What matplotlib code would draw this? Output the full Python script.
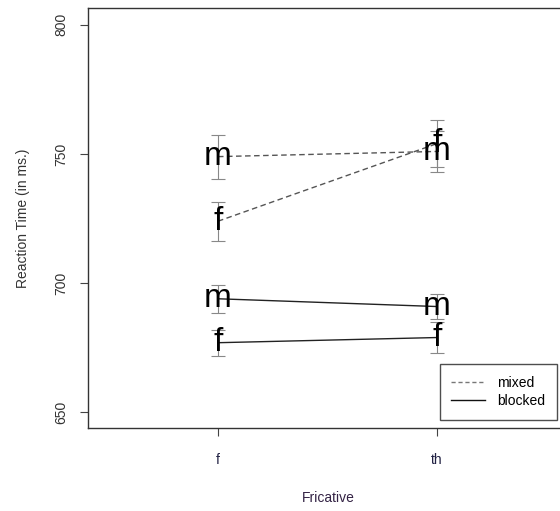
import matplotlib
matplotlib.use("Agg")
import matplotlib.pyplot as plt
from matplotlib.lines import Line2D

plt.rcParams['font.family'] = ['Liberation Sans', 'DejaVu Sans']

categories = ["f", "th"]
mixed_m = [749, 751]
mixed_m_err = [8.5, 8]
mixed_f = [724, 754]
mixed_f_err = [7.5, 9]
blocked_m = [694, 691]
blocked_m_err = [5.5, 5]
blocked_f = [677, 679]
blocked_f_err = [5, 6]
yticks = [650, 700, 750, 800]

fig = plt.figure(figsize=(5.6, 5.11), dpi=100)
ax = fig.add_axes([88/560, 83/511, 480/560, 420/511])
x = [1, 2]

def series(vals, errs, letter, ls, color):
    ax.plot(x, vals, linestyle=ls, color=color, linewidth=1, zorder=2)
    ax.errorbar(x, vals, yerr=errs, fmt='none', ecolor='#888888', elinewidth=0.8,
                capsize=5, capthick=0.8, zorder=1)
    for xi, v in zip(x, vals):
        ax.text(xi, v, letter, ha='center', va='center', fontsize=24,
                color='black', zorder=3)

series(mixed_m, mixed_m_err, 'm', (0, (4, 2.5)), '#555555')
series(mixed_f, mixed_f_err, 'f', (0, (4, 2.5)), '#555555')
series(blocked_m, blocked_m_err, 'm', '-', '#222222')
series(blocked_f, blocked_f_err, 'f', '-', '#222222')

ax.set_xlim(0.406, 2.6)
ax.set_ylim(644, 806.5)
ax.set_xticks(x)
ax.set_xticklabels(categories, fontsize=10, color='#222244')
ax.set_yticks(yticks)
ax.set_yticklabels([str(t) for t in yticks], rotation=90, va='center', fontsize=10, color='#333333')
ax.tick_params(axis='both', length=6, width=0.8, color='#444444', pad=8)
ax.tick_params(axis='x', pad=12)
for s in ax.spines.values():
    s.set_color('#333333')
    s.set_linewidth(1)

ax.set_xlabel('Fricative', fontsize=10, color='#332244', labelpad=17)
ax.set_ylabel('Reaction Time (in ms.)', fontsize=10, color='#333333', labelpad=18)

handles = [Line2D([], [], color='#777777', linestyle=(0, (3, 2)), linewidth=1),
           Line2D([], [], color='#111111', linestyle='-', linewidth=1)]
leg = ax.legend(handles, ['mixed', 'blocked'], loc='lower right',
                bbox_to_anchor=(557/560, 91/511), bbox_transform=fig.transFigure,
                borderaxespad=0, fontsize=10, frameon=True, fancybox=False,
                handlelength=2.4, handletextpad=0.9, borderpad=0.85, labelspacing=0.3)
leg.get_frame().set_edgecolor('#222222')
leg.get_frame().set_linewidth(1)

fig.savefig('out.png', dpi=100)
